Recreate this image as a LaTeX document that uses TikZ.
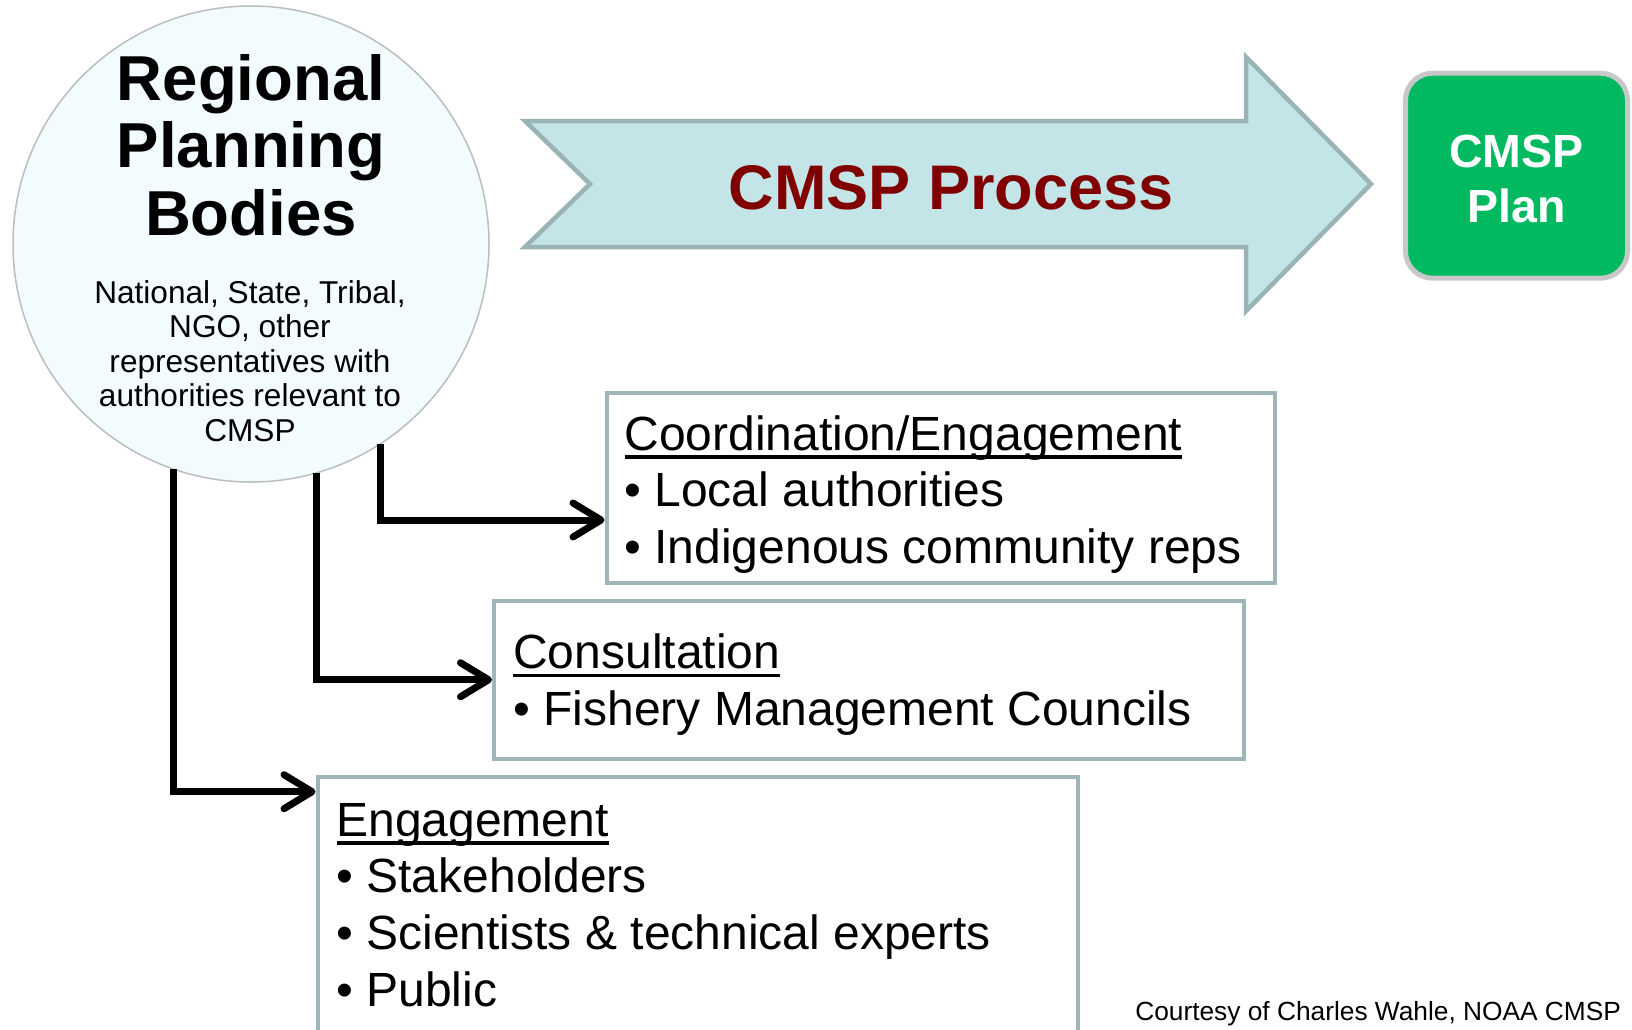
\documentclass[tikz,border=0pt]{standalone}
\usepackage{fontspec}
\setmainfont{Liberation Sans}
\usetikzlibrary{arrows.meta}
\definecolor{circfill}{RGB}{242,251,253}
\definecolor{circline}{RGB}{185,190,190}
\definecolor{arrfill}{RGB}{196,229,232}
\definecolor{arrline}{RGB}{154,180,182}
\definecolor{boxline}{RGB}{158,182,185}
\definecolor{plangreen}{RGB}{0,185,96}
\definecolor{planline}{RGB}{200,200,200}
\definecolor{procred}{RGB}{128,0,0}
\begin{document}
\begin{tikzpicture}[x=0.5pt,y=-0.5pt,
  tx/.style={inner sep=0pt,outer sep=0pt},
  ttl/.style={tx,anchor=base,font=\fontsize{31.75pt}{34pt}\selectfont\bfseries},
  sml/.style={tx,anchor=base,font=\fontsize{15.8pt}{17pt}\selectfont},
  bxt/.style={tx,anchor=base west,font=\fontsize{24pt}{28pt}\selectfont},
  panel/.style={draw=boxline,line width=2pt,fill=white,inner sep=0pt},
  uline/.style={line width=1.7pt},
  conn/.style={line width=3.5pt,-{Straight Barb[length=14pt,width=17pt,line cap=round,line join=round]}}
]
\useasboundingbox (0,0) rectangle (1632,1029);
\clip (0,0) rectangle (1632,1029);
\fill[white] (0,0) rectangle (1632,1029);

% process arrow
\draw[draw=arrline,fill=arrfill,line width=2.25pt]
  (525,121) -- (1246,121) -- (1246,57) -- (1371,184) -- (1246,311)
  -- (1246,247) -- (525,247) -- (590,184) -- cycle;
\node[tx,anchor=base,font=\fontsize{31.5pt}{34pt}\selectfont\bfseries,text=procred] (proc) at (951,209) {CMSP Process};

% plan box
\node[draw=planline,line width=2.5pt,fill=plangreen,rounded corners=13.5pt,
      minimum width=111pt,minimum height=102.5pt,inner sep=0pt] (plan) at (1516.5,175.7) {};
\node[tx,anchor=base,font=\fontsize{23.25pt}{26pt}\selectfont\bfseries,text=white] (plan1) at (1516.5,167.7) {CMSP};
\node[tx,anchor=base,font=\fontsize{23.25pt}{26pt}\selectfont\bfseries,text=white] (plan2) at (1516.5,222.7) {Plan};

% panels
\node[panel,minimum width=334.25pt,minimum height=95pt] (coord) at (940.75,488) {};
\node[panel,minimum width=375pt,minimum height=78.75pt] (consult) at (869,679.75) {};
\node[panel,minimum width=380.25pt,minimum height=161.5pt] (engage) at (697.75,938.5) {};

% circle
\node[circle,draw=circline,line width=0.75pt,fill=circfill,minimum size=238pt,inner sep=0pt,outer sep=0pt] (rpb) at (251,244) {};
\node[ttl] (t1) at (251,100) {Regional};
\node[ttl] (t2) at (251,167.5) {Planning};
\node[ttl] (t3) at (251,235) {Bodies};
\node[sml] (s1) at (250,303) {National, State, Tribal,};
\node[sml] (s2) at (250,337.5) {NGO, other};
\node[sml] (s3) at (250,372) {representatives with};
\node[sml] (s4) at (250,406.5) {authorities relevant to};
\node[sml] (s5) at (250,441) {CMSP};

% panel texts
\node[bxt] (c0) at (624.5,450) {Coordination/Engagement};
\node[bxt] (c1) at (624.5,506.5) {• Local authorities};
\node[bxt] (c2) at (624.5,563) {• Indigenous community reps};
\draw[uline] ([yshift=-3.4pt]c0.base west) -- ([yshift=-3.4pt]c0.base east);

\node[bxt] (k0) at (513.3,668.5) {Consultation};
\node[bxt] (k1) at (513.3,725) {• Fishery Management Councils};
\draw[uline] ([yshift=-3.4pt]k0.base west) -- ([yshift=-3.4pt]k0.base east);

\node[bxt] (e0) at (336.5,836) {Engagement};
\node[bxt] (e1) at (336.5,892) {• Stakeholders};
\node[bxt] (e2) at (336.5,949) {• Scientists \& technical experts};
\node[bxt] (e3) at (336.5,1006) {• Public};
\draw[uline] ([yshift=-3.4pt]e0.base west) -- ([yshift=-3.4pt]e0.base east);

% connectors
\draw[conn] (rpb.-57) |- ([yshift=-16pt]coord.west);
\draw[conn] (rpb.-74) |- (consult.west);
\draw[conn] (rpb.-109) |- ([yshift=-8.35pt]engage.north west);

% credit
\node[tx,anchor=base east,font=\fontsize{13.15pt}{15pt}\selectfont] (credit) at (1621,1020) {Courtesy of Charles Wahle, NOAA CMSP};
\end{tikzpicture}
\end{document}
